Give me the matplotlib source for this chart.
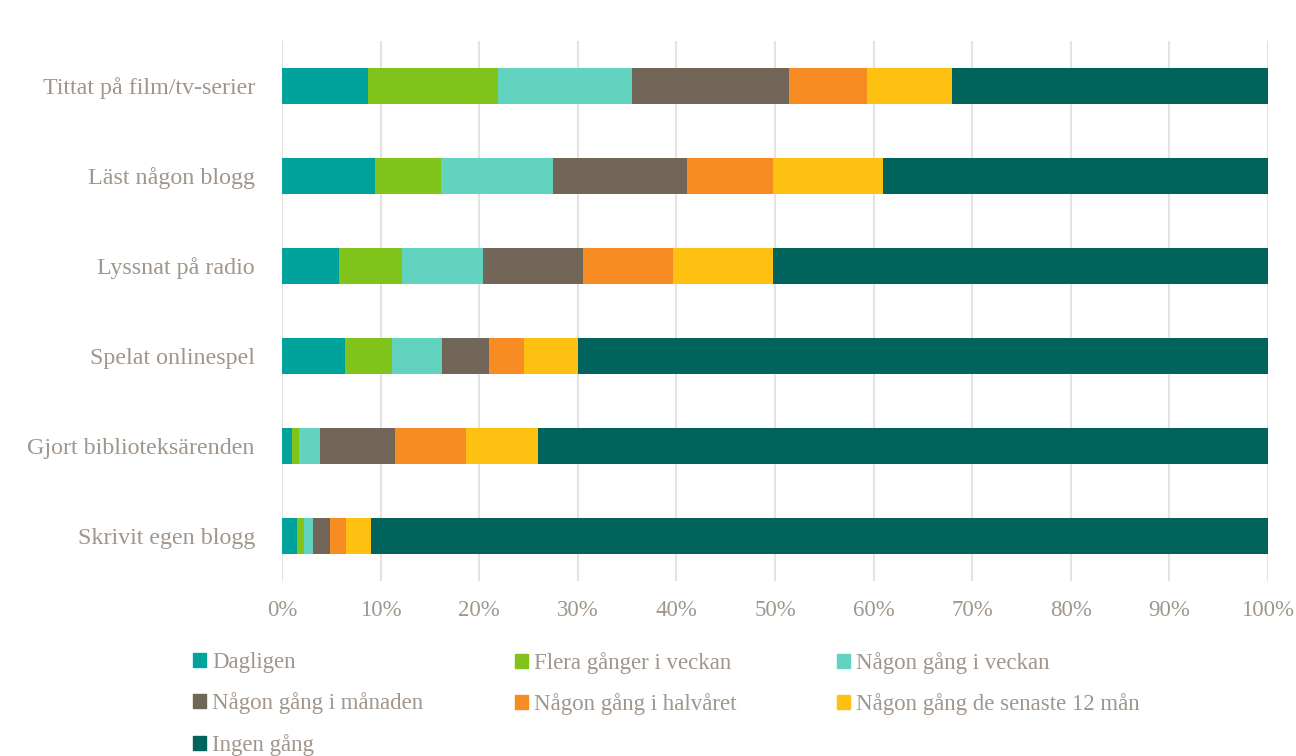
import numpy as np
import matplotlib
matplotlib.use("Agg")
from matplotlib import pyplot as plt
from matplotlib.patches import Patch

# activities, top to bottom as in the chart
activities = ["Tittat på film/tv-serier", "Läst någon blogg", "Lyssnat på radio",
              "Spelat onlinespel", "Gjort biblioteksärenden", "Skrivit egen blogg"]

categories = ["Dagligen", "Flera gånger i veckan", "Någon gång i veckan",
              "Någon gång i månaden", "Någon gång i halvåret",
              "Någon gång de senaste 12 mån", "Ingen gång"]

# percent shares per activity (same order as activities)
dagligen = [8.7, 9.4, 5.8, 6.4, 1.0, 1.5]
flera_vecka = [13.2, 6.7, 6.4, 4.8, 0.7, 0.7]
nagon_vecka = [13.6, 11.4, 8.2, 5.0, 2.2, 0.9]
nagon_manad = [15.9, 13.6, 10.1, 4.8, 7.6, 1.8]
nagon_halvar = [7.9, 8.7, 9.2, 3.5, 7.2, 1.6]
nagon_12man = [8.7, 11.2, 10.1, 5.5, 7.3, 2.5]
ingen = [32.0, 39.0, 50.2, 70.0, 74.0, 91.0]

series = [dagligen, flera_vecka, nagon_vecka, nagon_manad, nagon_halvar, nagon_12man, ingen]
colors = ["#00A39B", "#80C31A", "#62D3BE", "#716657", "#F68C22", "#FFC111", "#00635C"]

txt = "#A0968C"
plt.rcParams['font.family'] = ['Liberation Serif', 'DejaVu Serif']

fig = plt.figure(figsize=(12.96, 7.56), dpi=100)
ax = fig.add_axes([282/1296, 1-581/756, 986/1296, 540/756])

y = np.arange(len(activities))
left = np.zeros(len(activities))
for vals, col, lab in zip(series, colors, categories):
    ax.barh(y, vals, left=left, height=0.4, color=col, label=lab)
    left += np.array(vals)

ax.set_ylim(len(activities) - 0.5, -0.5)
ax.set_xlim(0, 100)
ax.set_xticks(np.arange(0, 101, 10))
ax.set_xticklabels([f"{v}%" for v in range(0, 101, 10)])
ax.set_yticks(y)
ax.set_yticklabels(activities)
ax.tick_params(axis='both', length=0, colors=txt)
ax.tick_params(axis='x', pad=14, labelsize=16.5)
ax.tick_params(axis='y', pad=19.5, labelsize=17.3)
ax.xaxis.grid(True, color="#E5E2DF", linewidth=1.5)
ax.set_axisbelow(True)
for s in ax.spines.values():
    s.set_visible(False)

# legend: one legend per column so the columns sit at fixed x positions
handles = [Patch(color=c) for c in colors]
columns = [[0, 3, 6], [1, 4], [2, 5]]
col_x = [193, 515, 837]
for xpos, idx in zip(col_x, columns):
    leg = fig.legend([handles[i] for i in idx], [categories[i] for i in idx],
                     loc='upper left', bbox_to_anchor=(xpos/1296, 1-652/756),
                     frameon=False, fontsize=16.5, handlelength=0.55, handleheight=0.55,
                     handletextpad=0.3, labelspacing=0.85,
                     borderaxespad=0, borderpad=0)
    for t in leg.get_texts():
        t.set_color(txt)

fig.savefig("out.png", dpi=100)
